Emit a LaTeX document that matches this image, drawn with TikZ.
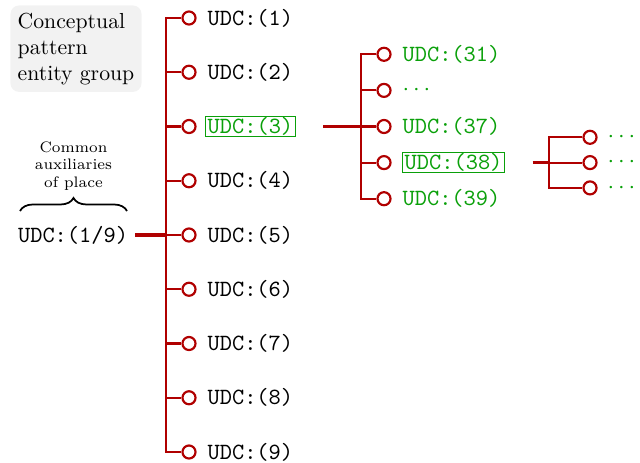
\documentclass[tikz,border=0pt]{standalone}
\usetikzlibrary{decorations.pathreplacing,calc}
\definecolor{treered}{RGB}{176,0,0}
\definecolor{leafgreen}{RGB}{10,160,10}
\begin{document}
\begin{tikzpicture}[x=0.46pt,y=-0.46pt,
  stem/.style={draw=treered,line width=1pt},
  rootstem/.style={draw=treered,line width=1.4pt},
  knob/.style={circle,draw=treered,line width=1pt,fill=white,inner sep=0pt,minimum size=6pt},
  code/.style={font=\fontsize{10.7}{13}\selectfont\ttfamily,anchor=west,inner xsep=1pt,inner ysep=0.3pt},
  sub/.style={code,text=leafgreen},
  picked/.style={sub,draw=leafgreen,line width=0.5pt},
  groupbox/.style={fill=gray!10,rounded corners=4pt,align=left,anchor=north west,inner sep=3.33pt}]
\useasboundingbox (0,0) rectangle (640,462);

% legend box
\node[groupbox] (grp) at (10,5) {Conceptual\\pattern\\entity group};

% root of the first level
\node[code] (root) at (15.5,235) {UDC:(1/9)};
\coordinate (bl) at (20,211);
\coordinate (br) at (127,211);
\draw[decorate,decoration={brace,amplitude=6pt},line width=0.8pt] (bl) -- (br);
\node[font=\scriptsize,align=center,anchor=south] (note) at (73.5,198) {Common\\auxiliaries\\of place};

% first level: UDC:(1) ... UDC:(9)
\foreach \k in {1,...,9} {
  \pgfmathsetmacro\yy{18+(\k-1)*54.25}
  \node[knob] (c\k) at (189,\yy) {};
}
\foreach \k in {1,2,4,5,6,7,8,9} {
  \node[code] (l\k) at ($(c\k)+(16,0)$) {UDC:(\k)};
}
\node[picked] (l3) at ($(c3)+(16,0)$) {UDC:(3)};
\coordinate (t1a) at (166,18);
\coordinate (t1b) at (166,452);
\coordinate (r1) at (135,235);
\draw[stem] (c1.west) -- (t1a) -- (t1b) -- (c9.west);
\foreach \k in {2,...,8} \draw[stem] (c\k.west) -- (c\k.west -| t1a);
\draw[rootstem] (r1) -- (r1 -| t1a);

% second level under UDC:(3)
\foreach \k/\yy in {1/54.3,2/90.4,3/126.5,4/162.6,5/198.7} {
  \node[knob] (d\k) at (384,\yy) {};
}
\node[sub] (m1) at ($(d1)+(16,0)$) {UDC:(31)};
\node[sub] (m2) at ($(d2)+(16,0)$) {$\cdots$};
\node[sub] (m3) at ($(d3)+(16,0)$) {UDC:(37)};
\node[picked] (m4) at ($(d4)+(18,0)$) {UDC:(38)};
\node[sub] (m5) at ($(d5)+(16,0)$) {UDC:(39)};
\coordinate (t2a) at (361,54.3);
\coordinate (t2b) at (361,198.7);
\coordinate (r2) at (323,126.5);
\draw[stem] (d1.west) -- (t2a) -- (t2b) -- (d5.west);
\foreach \k in {2,3,4} \draw[stem] (d\k.west) -- (d\k.west -| t2a);
\draw[rootstem] (r2) -- (r2 -| t2a);

% third level under UDC:(38)
\foreach \k/\yy in {1/137.3,2/162.6,3/187.9} {
  \node[knob] (e\k) at (590,\yy) {};
  \node[sub] (n\k) at ($(e\k)+(15,0)$) {$\cdots$};
}
\coordinate (t3a) at (549,137.3);
\coordinate (t3b) at (549,187.9);
\coordinate (r3) at (532.5,162.6);
\draw[stem] (e1.west) -- (t3a) -- (t3b) -- (e3.west);
\draw[stem] (e2.west) -- (e2.west -| t3a);
\draw[rootstem] (r3) -- (r3 -| t3a);
\end{tikzpicture}
\end{document}
